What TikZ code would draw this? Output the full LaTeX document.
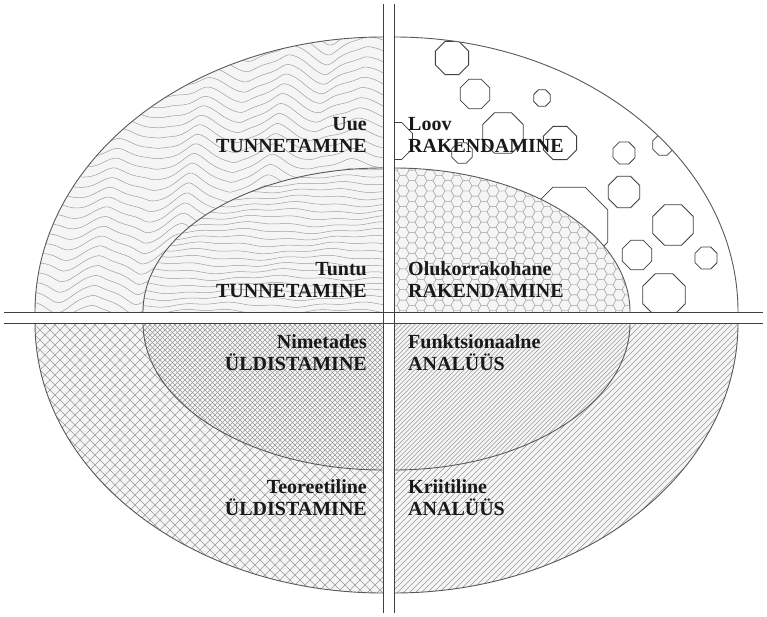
\documentclass[tikz,border=0pt]{standalone}
\usepackage{fontspec}
\setmainfont{Liberation Serif}
\begin{document}
\begin{tikzpicture}[x=1pt,y=-1pt,
  rim/.style={draw=black!65, line width=0.9pt},
  axisline/.style={draw=black!75, line width=1pt},
  wave/.style={draw=black!38, line width=0.5pt},
  hatch/.style={draw=black!40, line width=0.45pt},
  hexl/.style={draw=black!30, line width=0.45pt},
  octa/.style={draw=black!75, fill=white, line width=0.8pt},
  bgfill/.style={fill=black!4},
  lbl/.style={font=\bfseries\fontsize{20}{22}\selectfont, inner sep=0pt, text=black!90},
]
\useasboundingbox (0,0) rectangle (767,617);
\fill[white] (0,0) rectangle (767,617);

% ---------- top left outer: wavy lines
\begin{scope}
\clip (383,312) -- (35,312) arc[start angle=180,end angle=270,x radius=348,y radius=275] -- cycle;
\fill[bgfill] (0,0) rectangle (400,320);
\foreach \k in {0,...,30}
  \draw[wave] plot[domain=30:390,samples=110,smooth] (\x,{24+10*\k+(7+3*sin(1.3*\x+11*\k))*asin(0.96*sin(4.6*\x+7*\k))/74+1.5*sin(9*\x+23*\k)});
\end{scope}
% ---------- top left inner: horizontal waves
\begin{scope}
\clip (383,312) -- (143,312) arc[start angle=180,end angle=270,x radius=240,y radius=144] -- cycle;
\fill[bgfill] (100,150) rectangle (400,320);
\foreach \k in {0,...,22}
  \draw[wave] plot[domain=140:390,samples=70,smooth] (\x,{164+6.7*\k+1.8*sin(2.6*\x+37*\k)+0.9*sin(8*\x+11*\k)});
\end{scope}

% ---------- top right outer: octagons
\begin{scope}
\clip (394,312) -- (738,312) arc[start angle=0,end angle=-90,x radius=344,y radius=275] -- cycle;
\fill[white] (390,0) rectangle (767,320);
\foreach \cx/\cy/\r in {452/58/18, 475/94/16, 542/98/9, 503/133/22, 560/143/18, 394/141/20, 462/153/11,
    624/153/12, 663/145/11, 624/192/17, 569/226/42, 673/225/22, 637/255/16, 664/295/23, 706/258/12}
  \draw[octa] (\cx,\cy) +(22.5:\r) -- +(67.5:\r) -- +(112.5:\r) -- +(157.5:\r) -- +(202.5:\r) -- +(247.5:\r) -- +(292.5:\r) -- +(337.5:\r) -- cycle;
\end{scope}
% ---------- top right inner: honeycomb
\begin{scope}
\clip (394,312) -- (630,312) arc[start angle=0,end angle=-90,x radius=236,y radius=144] -- cycle;
\fill[bgfill] (390,160) rectangle (640,320);
\foreach \i in {0,...,27} \foreach \j in {0,...,15} {
  \pgfmathsetmacro\hx{394+9*\i}
  \pgfmathsetmacro\hy{165+10.392*\j+5.196*mod(\i,2)}
  \draw[hexl] (\hx,\hy) +(0:6) -- +(60:6) -- +(120:6) -- +(180:6) -- +(240:6) -- +(300:6) -- cycle;
}
\end{scope}

% ---------- bottom left outer: coarse crosshatch
\begin{scope}
\clip (383,323) -- (35,323) arc[start angle=180,end angle=90,x radius=348,y radius=270] -- cycle;
\fill[bgfill] (0,320) rectangle (400,617);
\foreach \s in {-290,-280,...,700} {
  \draw[hatch] (\s,320) -- ++(300,300);
  \draw[hatch] (\s,320) -- ++(-300,300);
}
\end{scope}
% ---------- bottom left inner: fine crosshatch
\begin{scope}
\clip (383,323) -- (143,323) arc[start angle=180,end angle=90,x radius=240,y radius=147] -- cycle;
\fill[bgfill] (100,320) rectangle (400,480);
\foreach \s in {-20,-15,...,545} {
  \draw[hatch] (\s,320) -- ++(160,160);
  \draw[hatch] (\s,320) -- ++(-160,160);
}
\end{scope}

% ---------- bottom right outer: diagonal lines
\begin{scope}
\clip (394,323) -- (738,323) arc[start angle=0,end angle=90,x radius=344,y radius=270] -- cycle;
\fill[bgfill] (390,320) rectangle (767,617);
\foreach \s in {90,96,...,750}
  \draw[hatch] (\s,600) -- ++(300,-300);
\end{scope}
% ---------- bottom right inner: fine diagonal lines
\begin{scope}
\clip (394,323) -- (630,323) arc[start angle=0,end angle=90,x radius=236,y radius=147] -- cycle;
\fill[bgfill] (390,320) rectangle (640,480);
\foreach \s in {230,234.5,...,640}
  \draw[hatch] (\s,478) -- ++(160,-160);
\end{scope}

% ---------- ellipse rims
\draw[rim] (35,312) arc[start angle=180,end angle=270,x radius=348,y radius=275];
\draw[rim] (143,312) arc[start angle=180,end angle=270,x radius=240,y radius=144];
\draw[rim] (738,312) arc[start angle=0,end angle=-90,x radius=344,y radius=275];
\draw[rim] (630,312) arc[start angle=0,end angle=-90,x radius=236,y radius=144];
\draw[rim] (35,323) arc[start angle=180,end angle=90,x radius=348,y radius=270];
\draw[rim] (143,323) arc[start angle=180,end angle=90,x radius=240,y radius=147];
\draw[rim] (738,323) arc[start angle=0,end angle=90,x radius=344,y radius=270];
\draw[rim] (630,323) arc[start angle=0,end angle=90,x radius=236,y radius=147];

% ---------- axes
\draw[axisline] (383,4) -- (383,613);
\draw[axisline] (394,4) -- (394,613);
\draw[axisline] (4,312) -- (763,312);
\draw[axisline] (4,323) -- (763,323);

% ---------- labels
\node[lbl, anchor=base east] (l1a) at (367,131) {Uue};
\node[lbl, anchor=base east] (l1b) at (367,153) {TUNNETAMINE};
\node[lbl, anchor=base west] (r1a) at (408,131) {Loov};
\node[lbl, anchor=base west] (r1b) at (408,153) {RAKENDAMINE};
\node[lbl, anchor=base east] (l2a) at (367,275) {Tuntu};
\node[lbl, anchor=base east] (l2b) at (367,297) {TUNNETAMINE};
\node[lbl, anchor=base west] (r2a) at (408,275) {Olukorrakohane};
\node[lbl, anchor=base west] (r2b) at (408,297) {RAKENDAMINE};
\node[lbl, anchor=base east] (l3a) at (367,348) {Nimetades};
\node[lbl, anchor=base east] (l3b) at (367,370) {ÜLDISTAMINE};
\node[lbl, anchor=base west] (r3a) at (408,348) {Funktsionaalne};
\node[lbl, anchor=base west] (r3b) at (408,370) {ANALÜÜS};
\node[lbl, anchor=base east] (l4a) at (367,493) {Teoreetiline};
\node[lbl, anchor=base east] (l4b) at (367,515) {ÜLDISTAMINE};
\node[lbl, anchor=base west] (r4a) at (408,493) {Kriitiline};
\node[lbl, anchor=base west] (r4b) at (408,515) {ANALÜÜS};
\end{tikzpicture}
\end{document}
